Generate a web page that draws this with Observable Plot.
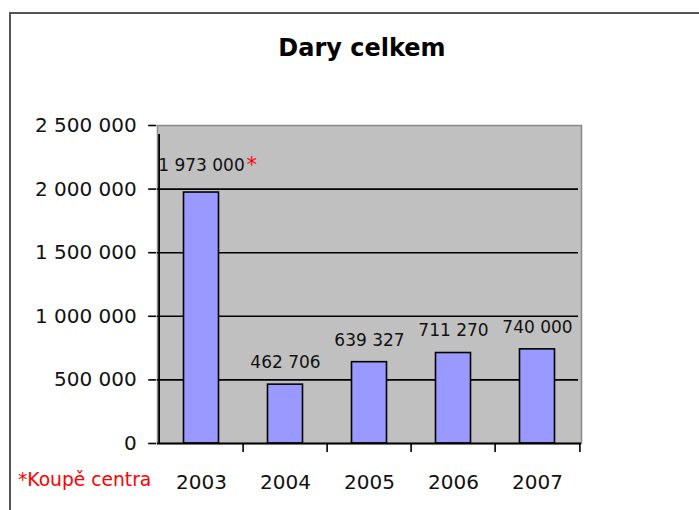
<!DOCTYPE html>
<html>
<head>
<meta charset="utf-8">
<script src="https://cdn.jsdelivr.net/npm/d3@7"></script>
<script src="https://cdn.jsdelivr.net/npm/@observablehq/plot@0.6"></script>
<style>
  html, body { margin: 0; padding: 0; background: #fff; }
  #wrap { position: relative; width: 699px; height: 510px; overflow: hidden; font-family: "DejaVu Sans", sans-serif; }
  #frame { position: absolute; left: 9px; top: 12px; width: 720px; height: 540px; border: 2px solid #555; box-sizing: border-box; }
  #title { position: absolute; left: 212px; top: 34px; width: 300px; text-align: center; font-weight: bold; font-size: 24px; line-height: 28px; color: #000; }
  #note { position: absolute; left: 18px; top: 470px; font-size: 18.7px; line-height: 20px; color: #ff0000; white-space: nowrap; }
  #chart { position: absolute; left: 0; top: 0; }
</style>
</head>
<body>
<div id="wrap">
  <div id="frame"></div>
  <div id="chart"></div>
  <div id="title">Dary celkem</div>
  <div id="note">*Koupě centra</div>
</div>
<script>
// Data
const years = ["2003", "2004", "2005", "2006", "2007"];
const values = [1973000, 462706, 639327, 711270, 740000];
const yTicks = [0, 500000, 1000000, 1500000, 2000000, 2500000];
const gridValues = [500000, 1000000, 1500000, 2000000];
const yMax = 2500000;
const noteMark = "*";

const data = years.map((y, i) => ({year: y, value: values[i]}));

const fmt = d3.formatLocale({decimal: ",", thousands: "\u00a0", grouping: [3]}).format(",d");

const W = 699, H = 510, mL = 157, mR = 118, mT = 125, mB = 67;
const step = (W - mL - mR) / years.length;

const plot = Plot.plot({
  width: W,
  height: H,
  marginLeft: mL,
  marginRight: mR,
  marginTop: mT,
  marginBottom: mB,
  style: {fontFamily: "DejaVu Sans, sans-serif", background: "transparent", overflow: "visible"},
  x: {type: "band", domain: years, padding: 0, axis: null, label: null},
  y: {domain: [0, yMax], axis: null, label: null},
  marks: [
    Plot.frame({fill: "#c0c0c0", stroke: "#8a8a8a", strokeWidth: 1.5}),
    Plot.ruleY(gridValues, {stroke: "#000", strokeWidth: 1.6, insetRight: 3}),
    Plot.barY(data, {x: "year", y: "value", fill: "#9999ff", stroke: "#000", strokeWidth: 1.6, insetLeft: 24.5, insetRight: 24.5}),
    // x axis line
    Plot.ruleY([0], {stroke: "#000", strokeWidth: 1.8}),
    // y axis line (left edge of first band)
    Plot.ruleX([years[0]], {x: d => d, y1: 0, y2: yMax, dx: -step / 2, stroke: "#000", strokeWidth: 1.8, insetBottom: -9}),
    // boundary ticks on x axis
    Plot.ruleX(years.slice(1), {x: d => d, y1: 0, y2: 0, dx: -step / 2, stroke: "#000", strokeWidth: 1.6, insetBottom: -9}),
    Plot.ruleX([years[years.length - 1]], {x: d => d, y1: 0, y2: 0, dx: step / 2, stroke: "#000", strokeWidth: 1.6, insetBottom: -9}),
    // axes
    Plot.axisY(yTicks, {label: null, tickSize: 8, tickPadding: 12, tickFormat: fmt, fontSize: 20, stroke: "#000", strokeWidth: 1.6, fill: "#111", dx: -0.8}),
    Plot.axisX(years, {label: null, tickSize: 0, tickPadding: 31, fontSize: 20, fill: "#111"}),
    // value labels
    Plot.text(data.slice(1), {x: "year", y: "value", text: d => fmt(d.value), dy: -22, fontSize: 17, fill: "#111"}),
    Plot.text(data.slice(0, 1), {x: "year", y: "value", text: d => fmt(d.value), dy: -27, fontSize: 17, fill: "#111"}),
    Plot.text(data.slice(0, 1), {x: "year", y: "value", text: () => noteMark, dy: -27, dx: 45, textAnchor: "start", fontSize: 21, fill: "#ff0000"})
  ]
});
document.getElementById("chart").appendChild(plot);
</script>
</body>
</html>
